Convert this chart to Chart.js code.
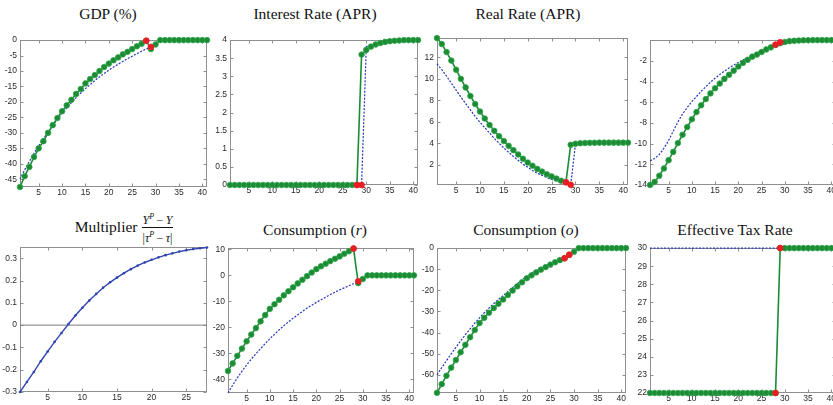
<!DOCTYPE html>
<html>
<head>
<meta charset="utf-8">
<script src="https://cdn.jsdelivr.net/npm/chart.js@4.4.1/dist/chart.umd.min.js"></script>
<style>
  html, body { margin: 0; padding: 0; background: #fff; }
  body { position: relative; width: 833px; height: 405px; overflow: hidden; }
  .title {
    position: absolute; width: 220px; height: 24px;
    display: flex; align-items: center; justify-content: center;
    font-family: "Liberation Serif", "DejaVu Serif", serif; font-size: 15.5px; color: #111;
    white-space: nowrap;
  }
  .frac { display: inline-block; vertical-align: middle; text-align: center; font-size: 12px; line-height: 12px; margin-left: 4px; }
  .frac .num { display: block; border-bottom: 1px solid #111; padding: 0 1px 1px; }
  .frac .den { display: block; padding-top: 1px; }
  .frac sup { font-size: 8px; vertical-align: 5px; }
</style>
</head>
<body>
<div class="title" style="left:-2px;top:2px">GDP (%)</div>
<div class="title" style="left:205px;top:2px">Interest Rate (APR)</div>
<div class="title" style="left:418px;top:2px">Real Rate (APR)</div>
<div class="title" style="left:14px;top:215px">Multiplier <span class="frac"><span class="num"><i>Y</i><sup><i>P</i></sup>&thinsp;−&thinsp;<i>Y</i></span><span class="den">|<i>τ</i><sup><i>P</i></sup>&thinsp;−&thinsp;<i>τ</i>|</span></span></div>
<div class="title" style="left:205px;top:218px">Consumption (<i>r</i>)</div>
<div class="title" style="left:416px;top:218px">Consumption (<i>o</i>)</div>
<div class="title" style="left:625px;top:218px">Effective Tax Rate</div>
<script>
// quarters on the x axis
const steps = [1,2,3,4,5,6,7,8,9,10,11,12,13,14,15,16,17,18,19,20,21,22,23,24,25,26,27,28,29,30,31,32,33,34,35,36,37,38,39,40,41];
const multSteps = [1,2,3,4,5,6,7,8,9,10,11,12,13,14,15,16,17,18,19,20,21,22,23,24,25,26,27,28];
// red markers: green path at 28, blue path at 29
const switchSteps = [28, 29];

const gdpGreen = [-47.5,-44,-41,-37.8,-35,-32.7,-30,-27.5,-25.2,-23,-21.1,-19.3,-17.4,-15.8,-14,-12.6,-11.3,-10,-8.7,-7.6,-6.5,-5.6,-4.6,-3.8,-2.9,-2,-1.2,-0.2,-2.9,-1.4,0,0,0,0,0,0,0,0,0,0,0];
const gdpBlue = [-45,-42,-39.2,-36.6,-34.2,-31.9,-29.7,-27.6,-25.6,-23.7,-21.9,-20.2,-18.6,-17.1,-15.7,-14.4,-13.1,-11.9,-10.8,-9.7,-8.7,-7.8,-6.9,-6,-5.2,-4.4,-3.6,-2.9,-2.2,-1.4,0,0,0,0,0,0,0,0,0,0,0];

const rateGreen = [0,0,0,0,0,0,0,0,0,0,0,0,0,0,0,0,0,0,0,0,0,0,0,0,0,0,0,0,3.6,3.73,3.82,3.88,3.92,3.95,3.97,3.98,3.99,4,4,4,4];
const rateBlue = [0,0,0,0,0,0,0,0,0,0,0,0,0,0,0,0,0,0,0,0,0,0,0,0,0,0,0,0,0,3.82,3.86,3.89,3.92,3.95,3.97,3.98,3.99,4,4,4,4];

const realGreen = [13.8,13.25,12.5,11.7,10.85,10,9.2,8.4,7.65,6.95,6.3,5.7,5.15,4.65,4.2,3.75,3.35,2.95,2.55,2.2,1.9,1.6,1.35,1.1,0.9,0.7,0.5,0.35,3.85,3.95,4,4.02,4.03,4.04,4.05,4.05,4.05,4.05,4.05,4.05,4.05];
const realBlue = [11.4,10.85,10.25,9.6,8.95,8.3,7.7,7.1,6.5,5.95,5.45,4.95,4.45,4,3.55,3.15,2.75,2.4,2.05,1.75,1.45,1.2,1,0.8,0.62,0.47,0.35,0.25,0.12,3.9,4,4.02,4.03,4.04,4.05,4.05,4.05,4.05,4.05,4.05,4.05];

const fourthGreen = [-14,-13.7,-13.1,-12.4,-11.6,-10.8,-9.95,-9.15,-8.4,-7.65,-6.95,-6.3,-5.7,-5.15,-4.65,-4.2,-3.75,-3.35,-2.95,-2.55,-2.2,-1.9,-1.6,-1.4,-1.15,-0.9,-0.7,-0.45,-0.3,-0.18,-0.1,-0.06,-0.04,-0.02,-0.01,0,0,0,0,0,0];
const fourthBlue = [-11.65,-11.45,-11.05,-10.45,-9.7,-8.8,-7.9,-7.15,-6.5,-5.95,-5.45,-4.95,-4.5,-4.07,-3.68,-3.32,-3,-2.7,-2.42,-2.16,-1.92,-1.7,-1.48,-1.2,-1,-0.8,-0.6,-0.42,-0.2,-0.15,-0.1,-0.06,-0.04,-0.02,-0.01,0,0,0,0,0,0];

const multiplier = [-0.3,-0.255,-0.21,-0.162,-0.118,-0.075,-0.035,0.005,0.043,0.078,0.11,0.14,0.168,0.192,0.213,0.233,0.251,0.267,0.281,0.293,0.304,0.314,0.322,0.33,0.336,0.341,0.345,0.348];

const consRGreen = [-36.8,-33.9,-31,-28.2,-25.4,-22.8,-20.3,-17.7,-15.3,-12.9,-11.1,-9.4,-7.7,-6.1,-4.6,-3.1,-1.7,-0.3,1.1,2.4,3.5,4.5,5.5,6.4,7.3,8.3,9.3,10.3,-3,-1.4,0,0,0,0,0,0,0,0,0,0,0];
const consRBlue = [-45.3,-42.3,-39.5,-36.9,-34.5,-32.3,-30.2,-28.2,-26.3,-24.4,-22.7,-21,-19.4,-17.9,-16.5,-15.2,-13.9,-12.6,-11.5,-10.4,-9.4,-8.4,-7.4,-6.5,-5.6,-4.8,-4,-3.2,-2.3,-1.4,0,0,0,0,0,0,0,0,0,0,0];

const consOGreen = [-68.5,-64.4,-60.4,-56.6,-53,-49.3,-45.8,-42.2,-38.8,-35.5,-33,-30.6,-28.4,-26.3,-24.3,-22.2,-20.1,-18.1,-16.2,-14.3,-12.9,-11.5,-10.2,-9,-7.8,-6.7,-5.7,-4.8,-3.2,-1.7,0,0,0,0,0,0,0,0,0,0,0];
const consOBlue = [-60,-56.6,-53.3,-50.1,-47,-43.9,-41,-38.2,-35.5,-33,-30.6,-28.4,-26.3,-24.3,-22.5,-20.6,-18.7,-16.8,-15,-13.3,-11.9,-10.6,-9.4,-8.3,-7.3,-6.3,-5.3,-4.3,-3.1,-1.7,0,0,0,0,0,0,0,0,0,0,0];

const taxGreen = [22,22,22,22,22,22,22,22,22,22,22,22,22,22,22,22,22,22,22,22,22,22,22,22,22,22,22,22,30,30,30,30,30,30,30,30,30,30,30,30,30];
const taxBlue = [30,30,30,30,30,30,30,30,30,30,30,30,30,30,30,30,30,30,30,30,30,30,30,30,30,30,30,30,30,30,30,30,30,30,30,30,30,30,30,30,30];

// tick labels
const xTicks = [5,10,15,20,25,30,35,40];
const multXTicks = [5,10,15,20,25];
const gdpTicks = [0,-5,-10,-15,-20,-25,-30,-35,-40,-45];
const rateTicks = [0,0.5,1,1.5,2,2.5,3,3.5,4];
const realTicks = [2,4,6,8,10,12];
const fourthTicks = [-2,-4,-6,-8,-10,-12,-14];
const multTicks = [-0.3,-0.2,-0.1,0,0.1,0.2,0.3];
const consRTicks = [10,0,-10,-20,-30,-40];
const consOTicks = [0,-10,-20,-30,-40,-50,-60];
const taxTicks = [22,23,24,25,26,27,28,29,30];

const GREEN = '#1d8a35';
const BLUE = '#2636b8';
const RED = '#ec1c24';

function pts(xs, ys) {
  return xs.map((x, i) => ({ x: x, y: ys[i] }));
}

function redPts(green, blue) {
  return [
    { x: switchSteps[0], y: green[steps.indexOf(switchSteps[0])] },
    { x: switchSteps[1], y: blue[steps.indexOf(switchSteps[1])] }
  ];
}

function pathSets(green, blue) {
  return [
    { data: redPts(green, blue), showLine: false, pointRadius: 3, pointBackgroundColor: RED, pointBorderColor: RED, pointBorderWidth: 0.5, clip: false },
    { data: pts(steps, green), borderColor: GREEN, borderWidth: 1.6, pointRadius: 2.8, pointBackgroundColor: GREEN, pointBorderColor: '#2fa84a', pointBorderWidth: 0.8, clip: false },
    { data: pts(steps, blue), borderColor: BLUE, borderWidth: 1.2, borderDash: [2, 1.5], pointRadius: 0, clip: false }
  ];
}

// box around the plot, ticks pointing inward on all four sides
const framePlugin = {
  id: 'frame',
  beforeDatasetsDraw(chart) {
    const ctx = chart.ctx, a = chart.chartArea;
    const sx = chart.scales.x, sy = chart.scales.y;
    const L = Math.round(a.left) + 0.5, R = Math.round(a.right) - 0.5;
    const T = Math.round(a.top) + 0.5, B = Math.round(a.bottom) - 0.5;
    ctx.save();
    ctx.strokeStyle = '#8f8f8f';
    ctx.lineWidth = 1;
    ctx.strokeRect(L, T, R - L, B - T);
    ctx.beginPath();
    sx.ticks.forEach(t => {
      const px = Math.round(sx.getPixelForValue(t.value)) + 0.5;
      ctx.moveTo(px, B); ctx.lineTo(px, B - 3);
      ctx.moveTo(px, T); ctx.lineTo(px, T + 3);
    });
    sy.ticks.forEach(t => {
      const py = Math.round(sy.getPixelForValue(t.value)) + 0.5;
      ctx.moveTo(L, py); ctx.lineTo(L + 3, py);
      ctx.moveTo(R, py); ctx.lineTo(R - 3, py);
    });
    ctx.stroke();
    ctx.restore();
  }
};

function axis(min, max, ticks, isX) {
  const YW = 30, XH = 16;
  return {
    type: 'linear',
    min: min, max: max,
    bounds: 'data',
    grid: { display: false, drawTicks: false },
    border: { display: false },
    afterBuildTicks: s => { s.ticks = ticks.map(v => ({ value: v })); },
    afterFit: s => { if (isX) s.height = XH; else s.width = YW; },
    ticks: {
      autoSkip: false, maxRotation: 0,
      padding: isX ? 1 : 3,
      color: '#2a2a2a',
      font: { family: '"Liberation Sans", Arial, sans-serif', size: 8.5 },
      callback: v => String(v)
    }
  };
}

function drawPanel(p) {
  const YW = 30, PT = 6, PR = 6, XH = 16;
  const [l, t, r, b] = p.box;
  const w = r - l + YW + PR, h = b - t + PT + XH;
  const c = document.createElement('canvas');
  c.width = w; c.height = h;
  c.style.cssText = 'position:absolute;left:' + (l - YW) + 'px;top:' + (t - PT) + 'px;width:' + w + 'px;height:' + h + 'px';
  document.body.appendChild(c);
  new Chart(c, {
    type: 'line',
    data: { datasets: p.datasets },
    options: {
      responsive: false,
      animation: false,
      devicePixelRatio: 1,
      layout: { padding: { top: PT, right: PR, left: 0, bottom: 0 } },
      elements: { line: { tension: 0 } },
      plugins: { legend: { display: false }, tooltip: { enabled: false } },
      scales: {
        x: axis(p.xRange[0], p.xRange[1], p.xTicks, true),
        y: axis(p.yRange[0], p.yRange[1], p.yTicks, false)
      }
    },
    plugins: [framePlugin]
  });
}

const panels = [
  { box: [20, 38, 207, 187], xRange: [1, 41], xTicks: xTicks, yRange: [-47.5, 0], yTicks: gdpTicks, datasets: pathSets(gdpGreen, gdpBlue) },
  { box: [230, 38, 418, 185], xRange: [1, 41], xTicks: xTicks, yRange: [0, 4], yTicks: rateTicks, datasets: pathSets(rateGreen, rateBlue) },
  { box: [437, 36, 628, 185], xRange: [1, 41], xTicks: xTicks, yRange: [0.1, 13.8], yTicks: realTicks, datasets: pathSets(realGreen, realBlue) },
  { box: [650, 38, 836, 185], xRange: [1, 41], xTicks: xTicks, yRange: [-14, 0], yTicks: fourthTicks, datasets: pathSets(fourthGreen, fourthBlue) },
  { box: [20, 245, 207, 392], xRange: [1, 28], xTicks: multXTicks, yRange: [-0.3, 0.35], yTicks: multTicks, datasets: [
      { data: pts(multSteps, multiplier), borderColor: '#2f45ad', borderWidth: 1.4, pointRadius: 1.3, pointBackgroundColor: '#2f45ad', pointBorderWidth: 0, clip: false },
      { data: [{ x: multSteps[0], y: 0 }, { x: multSteps[multSteps.length - 1], y: 0 }], borderColor: '#7d7d7d', borderWidth: 1, pointRadius: 0 }
    ] },
  { box: [228, 246, 414, 393], xRange: [1, 41], xTicks: xTicks, yRange: [-45.3, 10.5], yTicks: consRTicks, datasets: pathSets(consRGreen, consRBlue) },
  { box: [437, 246, 626, 393], xRange: [1, 41], xTicks: xTicks, yRange: [-68.6, 0], yTicks: consOTicks, datasets: pathSets(consOGreen, consOBlue) },
  { box: [650, 246, 836, 393], xRange: [1, 41], xTicks: xTicks, yRange: [22, 30], yTicks: taxTicks, datasets: pathSets(taxGreen, taxBlue) }
];

panels.forEach(drawPanel);
</script>
</body>
</html>
